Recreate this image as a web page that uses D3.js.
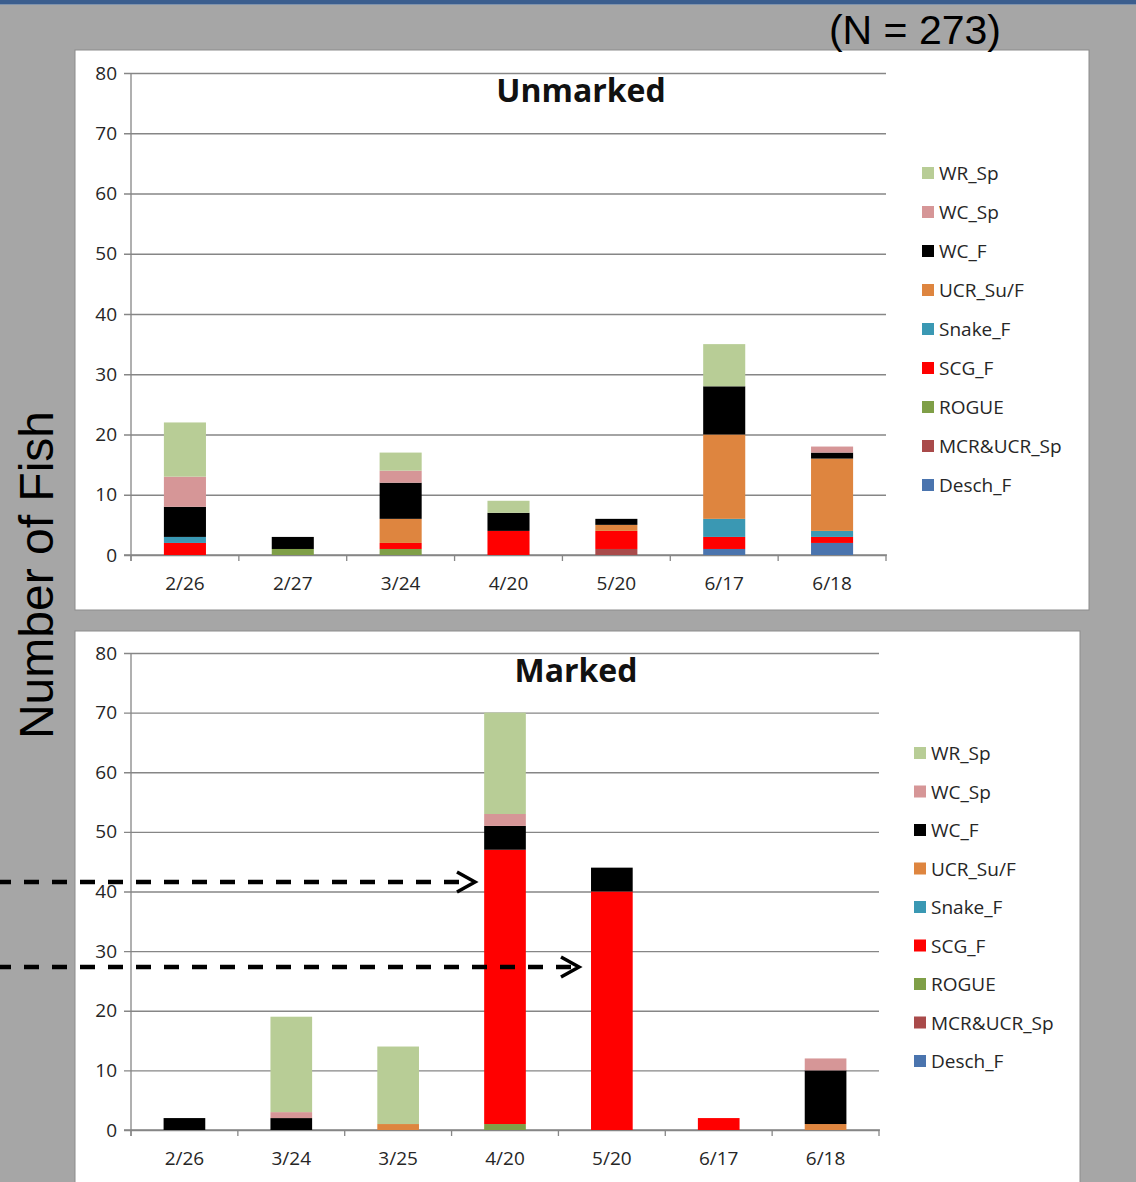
<!DOCTYPE html>
<html>
<head>
<meta charset="utf-8">
<script src="https://cdn.jsdelivr.net/npm/d3@7"></script>
<style>
  html, body { margin: 0; padding: 0; background: #a6a6a6; }
  svg { display: block; }
</style>
</head>
<body>
<svg id="fig" width="1136" height="1182"></svg>
<script>
// Stock groups, bottom of the stack first
const stocks = ["Desch_F", "MCR&UCR_Sp", "ROGUE", "SCG_F", "Snake_F", "UCR_Su/F", "WC_F", "WC_Sp", "WR_Sp"];
const stockColors = ["#4a74ae", "#a94a4a", "#7f9f47", "#ff0000", "#3a98b3", "#de853f", "#000000", "#d69697", "#b8cd96"];

// Unmarked fish by sampling date
const unmarkedDates = ["2/26", "2/27", "3/24", "4/20", "5/20", "6/17", "6/18"];
const unmarkedDesch = [0, 0, 0, 0, 0, 1, 2];
const unmarkedMcrUcr = [0, 0, 0, 0, 1, 0, 0];
const unmarkedRogue = [0, 1, 1, 0, 0, 0, 0];
const unmarkedScg = [2, 0, 1, 4, 3, 2, 1];
const unmarkedSnake = [1, 0, 0, 0, 0, 3, 1];
const unmarkedUcrSuF = [0, 0, 4, 0, 1, 14, 12];
const unmarkedWcF = [5, 2, 6, 3, 1, 8, 1];
const unmarkedWcSp = [5, 0, 2, 0, 0, 0, 1];
const unmarkedWrSp = [9, 0, 3, 2, 0, 7, 0];

// Marked fish by sampling date
const markedDates = ["2/26", "3/24", "3/25", "4/20", "5/20", "6/17", "6/18"];
const markedDesch = [0, 0, 0, 0, 0, 0, 0];
const markedMcrUcr = [0, 0, 0, 0, 0, 0, 0];
const markedRogue = [0, 0, 0, 1, 0, 0, 0];
const markedScg = [0, 0, 0, 46, 40, 2, 0];
const markedSnake = [0, 0, 0, 0, 0, 0, 0];
const markedUcrSuF = [0, 0, 1, 0, 0, 0, 1];
const markedWcF = [2, 2, 0, 4, 4, 0, 9];
const markedWcSp = [0, 1, 0, 2, 0, 0, 2];
const markedWrSp = [0, 16, 13, 17, 0, 0, 0];

const yTicks = [0, 10, 20, 30, 40, 50, 60, 70, 80];
const sampleTotal = "(N = 273)";

function rows(dates, cols) {
  return dates.map((d, i) => {
    const r = { date: d };
    stocks.forEach((s, k) => { r[s] = cols[k][i]; });
    return r;
  });
}

const unmarkedRows = rows(unmarkedDates, [unmarkedDesch, unmarkedMcrUcr, unmarkedRogue, unmarkedScg,
  unmarkedSnake, unmarkedUcrSuF, unmarkedWcF, unmarkedWcSp, unmarkedWrSp]);
const markedRows = rows(markedDates, [markedDesch, markedMcrUcr, markedRogue, markedScg,
  markedSnake, markedUcrSuF, markedWcF, markedWcSp, markedWrSp]);

const svg = d3.select("#fig");
const FONT = "'Open Sans', 'Noto Sans', sans-serif";
const color = d3.scaleOrdinal().domain(stocks).range(stockColors);

// slide background and top rule
svg.append("rect").attr("width", 1136).attr("height", 1182).attr("fill", "#a6a6a6");
svg.append("rect").attr("width", 1136).attr("height", 4).attr("fill", "#3b5e8e");
svg.append("rect").attr("y", 4).attr("width", 1136).attr("height", 1).attr("fill", "#7f93ad");

function panel(cfg) {
  const g = svg.append("g");
  g.append("rect")
    .attr("x", cfg.box[0]).attr("y", cfg.box[1])
    .attr("width", cfg.box[2] - cfg.box[0]).attr("height", cfg.box[3] - cfg.box[1])
    .attr("fill", "#ffffff").attr("stroke", "#8c8c8c").attr("stroke-width", 1);

  const x = d3.scaleBand().domain(cfg.rows.map(r => r.date))
    .range([cfg.x0, cfg.x1]).paddingInner(0.61).paddingOuter(0.305);
  const y = d3.scaleLinear().domain([0, 80]).range([cfg.y0, cfg.y80]);

  // gridlines with small outward ticks on the value axis
  const yAxis = d3.axisLeft(y).tickValues(yTicks).tickSize(-(cfg.x1 - cfg.x0)).tickSizeOuter(0).tickPadding(14);
  const ya = g.append("g").attr("transform", `translate(${cfg.x0},0)`).call(yAxis);
  ya.select(".domain").remove();
  ya.selectAll(".tick line").attr("x1", -7).attr("stroke", "#868686").attr("stroke-width", 1.3);
  ya.selectAll(".tick text").attr("font-family", FONT).attr("font-size", 19).attr("fill", "#262626");

  // category axis: ticks fall on the band boundaries
  const xa = g.append("g").attr("transform", `translate(0,${cfg.y0})`);
  xa.append("line").attr("x1", cfg.x0 - 7).attr("x2", cfg.x1 + 1)
    .attr("stroke", "#868686").attr("stroke-width", 1.3);
  const step = x.step();
  d3.range(cfg.rows.length + 1).forEach(i => {
    const xx = cfg.x0 + i * step;
    xa.append("line").attr("x1", xx).attr("x2", xx).attr("y1", 0).attr("y2", 6)
      .attr("stroke", "#868686").attr("stroke-width", 1.3);
  });
  xa.selectAll("text.cat").data(cfg.rows).join("text")
    .attr("class", "cat")
    .attr("x", d => x(d.date) + x.bandwidth() / 2).attr("y", 35)
    .attr("text-anchor", "middle")
    .attr("font-family", FONT).attr("font-size", 19).attr("fill", "#262626")
    .text(d => d.date);

  // y axis line
  g.append("line").attr("x1", cfg.x0).attr("x2", cfg.x0).attr("y1", cfg.y80).attr("y2", cfg.y0 + 6)
    .attr("stroke", "#868686").attr("stroke-width", 1.3);

  // stacked bars
  const stacked = d3.stack().keys(stocks)(cfg.rows);
  g.append("g").selectAll("g").data(stacked).join("g")
    .attr("fill", d => color(d.key))
    .selectAll("rect").data(d => d.filter(p => p[1] > p[0])).join("rect")
    .attr("x", d => x(d.data.date))
    .attr("width", x.bandwidth())
    .attr("y", d => y(d[1]))
    .attr("height", d => y(d[0]) - y(d[1]));

  // title
  g.append("text").attr("x", cfg.titleX).attr("y", cfg.titleY)
    .attr("text-anchor", "middle").attr("font-family", FONT).attr("font-weight", 700)
    .attr("font-size", 32).attr("fill", "#111").text(cfg.title);

  // legend, top of the stack listed first
  const leg = g.append("g");
  stocks.slice().reverse().forEach((s, i) => {
    const ly = cfg.legY + i * cfg.legStep;
    leg.append("rect").attr("x", cfg.legX).attr("y", ly - 6).attr("width", 12).attr("height", 12)
      .attr("fill", color(s));
    leg.append("text").attr("x", cfg.legX + 17).attr("y", ly + 7)
      .attr("font-family", FONT).attr("font-size", 19).attr("fill", "#262626").text(s);
  });
}

panel({
  rows: unmarkedRows, box: [75, 50, 1089, 610],
  x0: 131, x1: 886, y0: 555, y80: 73,
  title: "Unmarked", titleX: 581, titleY: 102,
  legX: 922, legY: 173, legStep: 39
});

panel({
  rows: markedRows, box: [75, 631, 1080, 1200],
  x0: 131, x1: 879, y0: 1130, y80: 653,
  title: "Marked", titleX: 576, titleY: 682,
  legX: 914, legY: 753, legStep: 38.5
});

// sample size
svg.append("text").attr("x", 915).attr("y", 44).attr("text-anchor", "middle")
  .attr("font-family", "'Liberation Sans', Arial, sans-serif").attr("font-size", 41)
  .attr("fill", "#000").text(sampleTotal);

// shared value-axis title
svg.append("text")
  .attr("transform", "translate(53,575) rotate(-90)")
  .attr("text-anchor", "middle")
  .attr("font-family", "'Liberation Sans', Arial, sans-serif").attr("font-size", 48)
  .attr("fill", "#000").text("Number of Fish");

// dashed pointer arrows
const arrows = [
  { y: 882, tip: 475 },
  { y: 967, tip: 579 }
];
const ag = svg.append("g").attr("stroke", "#000").attr("fill", "none");
arrows.forEach(a => {
  ag.append("line").attr("x1", -4).attr("x2", a.tip - 6).attr("y1", a.y).attr("y2", a.y)
    .attr("stroke-width", 4.5).attr("stroke-dasharray", "15,13");
  ag.append("path")
    .attr("d", `M${a.tip - 18},${a.y - 10}L${a.tip},${a.y}L${a.tip - 18},${a.y + 10}`)
    .attr("stroke-width", 3.5);
});
</script>
</body>
</html>
